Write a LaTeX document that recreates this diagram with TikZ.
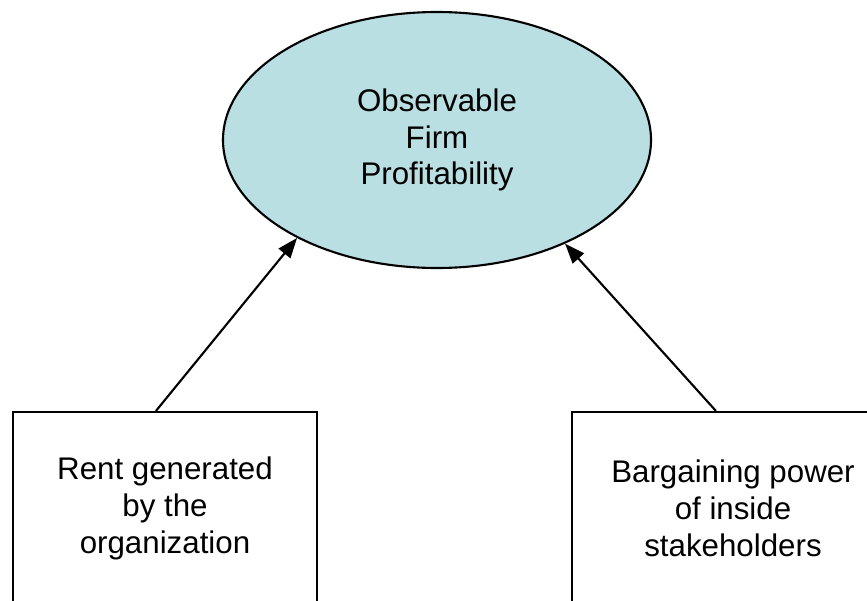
\documentclass[tikz,border=0pt]{standalone}
\usepackage{fontspec}
\setmainfont{Liberation Sans}
\usetikzlibrary{
    arrows.meta,
    shapes.geometric, % for the ellipse
    positioning
}

\definecolor{lightteal}{RGB}{185,223,227}

\begin{document}
\begin{tikzpicture}[
    every node/.style={font=\fontsize{8.9}{10.5}\selectfont, align=center},
    outcome/.style={ellipse, draw, line width=0.6pt, fill=lightteal,
                    minimum width=4.28cm, minimum height=2.56cm, inner sep=0pt},
    cause/.style={rectangle, draw, line width=0.6pt, minimum height=1.92cm, inner sep=0pt},
    link/.style={line width=0.6pt, -{Triangle[length=0.2cm, width=0.15cm]}}
]
    \useasboundingbox (0,0) rectangle (8.67,6);
    \clip (0,0) rectangle (8.67,6);

    \node[outcome] (profit) at (4.37,4.60) {Observable\\Firm\\Profitability};

    \node[cause, minimum width=3.04cm] (rent)  at (1.65,0.92) {Rent generated\\by the\\organization};
    \node[cause, minimum width=3.22cm] (power) at (7.33,0.92) {Bargaining power\\of inside\\stakeholders};

    \draw[link] ([xshift=1.44cm]rent.north west)  -- (profit.215);
    \draw[link] ([xshift=1.45cm]power.north west) -- (profit.321);
\end{tikzpicture}
\end{document}
